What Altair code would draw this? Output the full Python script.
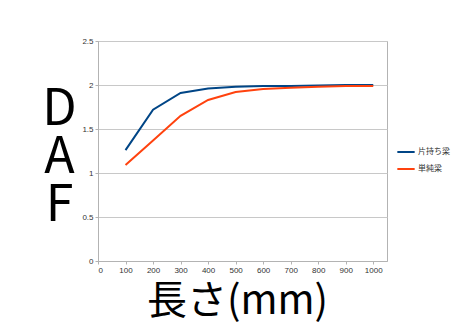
import altair as alt
import pandas as pd

lengths = [100, 200, 300, 400, 500, 600, 700, 800, 900, 1000]
cantilever = [1.26, 1.72, 1.91, 1.96, 1.98, 1.99, 1.99, 1.995, 2.0, 2.0]
simple = [1.09, 1.37, 1.65, 1.83, 1.92, 1.955, 1.97, 1.98, 1.99, 1.99]
series_names = ["片持ち梁", "単純梁"]
colors = ["#004586", "#ff420e"]

rows = []
for i, x in enumerate(lengths):
    rows.append({"len": x, "daf": cantilever[i], "s": series_names[0]})
    rows.append({"len": x, "daf": simple[i], "s": series_names[1]})
df = pd.DataFrame(rows)

chart = alt.Chart(df).mark_line(strokeWidth=2).encode(
    x=alt.X("len:Q", scale=alt.Scale(domain=[0, 1050], nice=False),
            axis=alt.Axis(values=list(range(0, 1001, 100)), grid=False, format="d",
                          title="長さ(mm)", titleFontSize=40, titleFont="Noto Sans CJK JP",
                          titleFontWeight="normal", titleColor="#000",
                          titlePadding=7, titleX=139, titleAnchor="middle")),
    y=alt.Y("daf:Q", scale=alt.Scale(domain=[0, 2.5], nice=False),
            axis=alt.Axis(values=[0, 0.5, 1, 1.5, 2, 2.5], format="~g",
                          title=["D", "A", "F"], titleAngle=0, titleFontSize=50,
                          titleFont="Noto Sans CJK JP", titleFontWeight="normal",
                          titleColor="#000", titleLineHeight=48,
                          titleX=-39, titleY=43, titleBaseline="top", titleAlign="center")),
    color=alt.Color("s:N", scale=alt.Scale(domain=series_names, range=colors),
                    legend=alt.Legend(title=None, orient="none", legendX=298, legendY=101,
                                      symbolType="stroke", symbolStrokeWidth=2, symbolSize=300,
                                      labelFontSize=8, labelFont="Noto Sans CJK JP",
                                      labelColor="#333", rowPadding=3, labelOffset=2)),
).properties(width=289, height=220).configure_view(
    stroke="#b3b3b3", strokeWidth=1
).configure_axis(
    labelFont="Liberation Sans", labelFontSize=8, labelColor="#333",
    domainColor="#b3b3b3", tickColor="#b3b3b3", tickSize=3, gridColor="#c8c8c8",
    labelPadding=2
).properties(
    padding={"left": 98, "top": 41, "right": 71, "bottom": 73},
    autosize=alt.AutoSizeParams(type="none")
)

chart.save("out.html", embed_options={"renderer": "svg", "actions": False})
